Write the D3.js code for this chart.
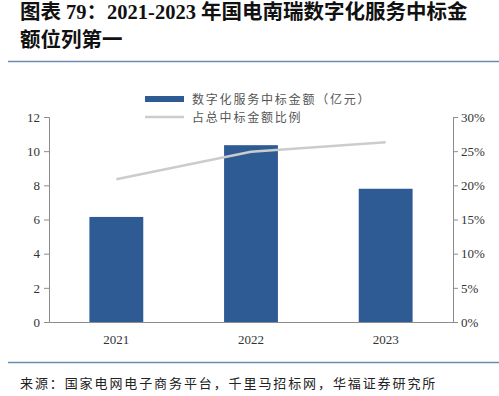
<!DOCTYPE html>
<html>
<head>
<meta charset="utf-8">
<script src="https://cdn.jsdelivr.net/npm/d3@7/dist/d3.min.js"></script>
<style>
  body { margin: 0; background: #fff; }
  svg { display: block; }
</style>
</head>
<body>
<div id="chart"></div>
<script>
// data
var years = ["2021", "2022", "2023"];
var amounts = [6.15, 10.35, 7.8];      // 数字化服务中标金额（亿元）
var shares = [0.209, 0.249, 0.263];    // 占总中标金额比例
var leftTicks = [0, 2, 4, 6, 8, 10, 12];
var rightTicks = [0, 0.05, 0.10, 0.15, 0.20, 0.25, 0.30];
var titleLines = ["图表 79：2021-2023 年国电南瑞数字化服务中标金", "额位列第一"];
var legendLabels = ["数字化服务中标金额（亿元）", "占总中标金额比例"];
var sourceText = "来源：国家电网电子商务平台，千里马招标网，华福证券研究所";

var W = 499, H = 396;
var margin = {top: 117, left: 49, right: 46, bottom: 74};
var w = W - margin.left - margin.right,
	h = H - margin.top - margin.bottom;

var serif = "'Liberation Serif', 'Noto Sans CJK SC', serif";
var cjk = "'Noto Sans CJK SC', sans-serif";

var svg = d3.select("#chart").append("svg")
	.attr("width", W)
	.attr("height", H);

// title
svg.selectAll(".title")
	.data(titleLines)
	.enter().append("text")
	.attr("class", "title")
	.attr("x", 20)
	.attr("y", function(d, i) { return 19 + i * 27.5; })
	.style("font-family", serif)
	.style("font-weight", "bold")
	.style("font-size", "20.5px")
	.style("fill", "#111")
	.text(function(d) { return d; });

// rules
svg.append("line").attr("x1", 8).attr("x2", W).attr("y1", 61.5).attr("y2", 61.5)
	.style("stroke", "#6a8db3").style("stroke-width", 1.5);
svg.append("line").attr("x1", 8).attr("x2", W).attr("y1", 362.5).attr("y2", 362.5)
	.style("stroke", "#6a8db3").style("stroke-width", 1.5);

svg.append("text")
	.attr("x", 20)
	.attr("y", 388)
	.style("font-family", cjk)
	.style("font-size", "13px")
	.style("letter-spacing", "1.9px")
	.style("fill", "#222")
	.text(sourceText);

var g = svg.append("g")
	.attr("transform", "translate(" + margin.left + "," + margin.top + ")");

// scales
var x = d3.scaleBand().domain(years).range([0, w]).paddingInner(0.6).paddingOuter(0.3);
var yL = d3.scaleLinear().domain([0, 12]).range([h, 0]);
var yR = d3.scaleLinear().domain([0, 0.30]).range([h, 0]);

// bars
g.selectAll(".bar")
	.data(amounts)
	.enter().append("rect")
	.attr("class", "bar")
	.attr("x", function(d, i) { return x(years[i]); })
	.attr("y", function(d) { return yL(d); })
	.attr("width", x.bandwidth())
	.attr("height", function(d) { return h - yL(d); })
	.style("fill", "#2f5b94");

// share line
var line = d3.line()
	.x(function(d, i) { return x(years[i]) + x.bandwidth() / 2; })
	.y(function(d) { return yR(d); });

g.append("path")
	.datum(shares)
	.attr("d", line)
	.style("fill", "none")
	.style("stroke", "#cccccc")
	.style("stroke-width", 2.5);

// axes
var left = g.append("g")
	.call(d3.axisLeft(yL).tickValues(leftTicks).tickSize(5).tickPadding(4));
var right = g.append("g")
	.attr("transform", "translate(" + w + ",0)")
	.call(d3.axisRight(yR).tickValues(rightTicks).tickSize(5).tickPadding(3)
		.tickFormat(d3.format(".0%")));
var bottom = g.append("g")
	.attr("transform", "translate(0," + h + ")")
	.call(d3.axisBottom(x).tickSize(0).tickPadding(13));

[left, right, bottom].forEach(function(a) {
	a.selectAll("path, line").style("stroke", "#8c8c8c");
	a.selectAll("text")
		.style("font-family", serif)
		.style("font-size", "13px")
		.style("fill", "#333");
});

// legend
var legend = svg.append("g").attr("transform", "translate(145,0)");
legend.append("rect")
	.attr("x", 0).attr("y", 96)
	.attr("width", 39).attr("height", 6)
	.style("fill", "#2f5b94");
legend.append("line")
	.attr("x1", 0).attr("x2", 39).attr("y1", 117).attr("y2", 117)
	.style("stroke", "#cccccc").style("stroke-width", 2.5);
legend.selectAll(".leg-text")
	.data(legendLabels)
	.enter().append("text")
	.attr("class", "leg-text")
	.attr("x", 47)
	.attr("y", function(d, i) { return 103.5 + i * 18; })
	.style("font-family", cjk)
	.style("font-size", "12px")
	.style("letter-spacing", "1.8px")
	.style("fill", "#555")
	.text(function(d) { return d; });
</script>
</body>
</html>
